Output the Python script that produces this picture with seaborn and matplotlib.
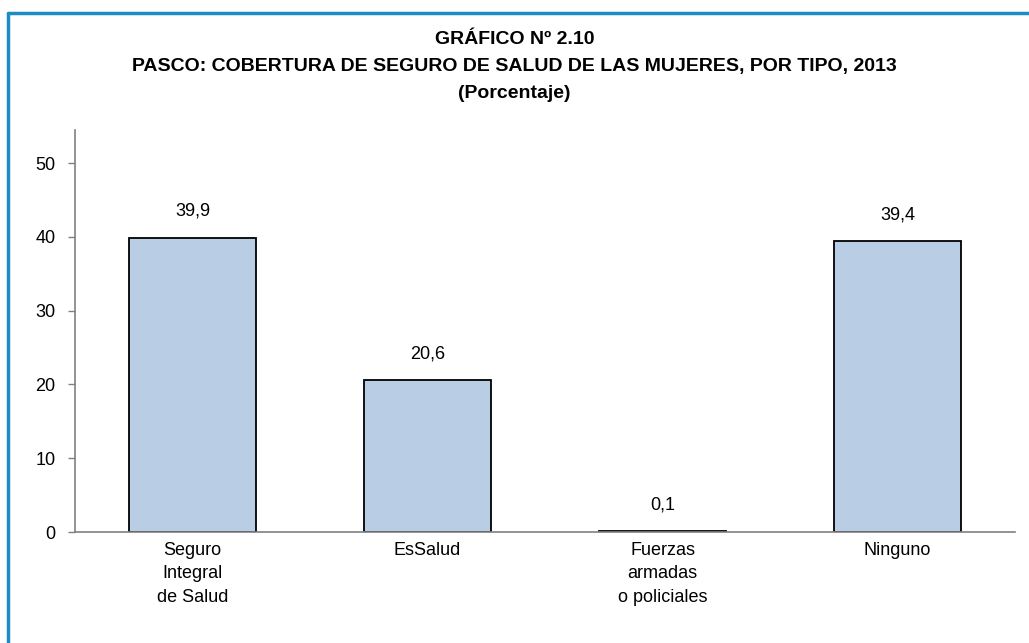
import matplotlib
matplotlib.use("Agg")
import matplotlib.pyplot as plt
import seaborn as sns
from matplotlib.lines import Line2D

categories = ["Seguro\nIntegral\nde Salud", "EsSalud", "Fuerzas\narmadas\no policiales", "Ninguno"]
values = [39.9, 20.6, 0.1, 39.4]
value_labels = ["39,9", "20,6", "0,1", "39,4"]
yticks = [0, 10, 20, 30, 40, 50]

sns.set_style("white")
plt.rcParams['font.family'] = ['Liberation Sans Narrow', 'Liberation Sans', 'DejaVu Sans']
plt.rcParams['text.color'] = 'black'
plt.rcParams['xtick.labelcolor'] = 'black'
plt.rcParams['ytick.labelcolor'] = 'black'

fig = plt.figure(figsize=(10.29, 6.43), dpi=100)
ax = fig.add_axes([0.0729, 0.1726, 0.9135, 0.6254])

sns.barplot(x=categories, y=values, color="#B9CDE5", saturation=1,
            edgecolor="black", linewidth=1.3, width=0.54, ax=ax)

# value labels above bars
for i, (v, lab) in enumerate(zip(values, value_labels)):
    ax.annotate(lab, (i, v), xytext=(0, 19), textcoords="offset points",
                ha="center", va="center", fontsize=13)

ax.set_ylim(0, 54.5)
ax.set_xlim(-0.5, 3.5)
ax.set_yticks(yticks)
ax.set_yticklabels([str(t) for t in yticks], fontsize=13)
ax.set_xticks(range(len(categories)))
ax.set_xticklabels(categories, fontsize=13, linespacing=1.5)
ax.set_xticks([-0.5, 0.5, 1.5, 2.5, 3.5], minor=True)
ax.tick_params(axis="x", which="major", length=0, pad=7)
ax.tick_params(axis="x", which="minor", length=5, direction="out", color="#808080", width=1)
ax.tick_params(axis="y", length=5, direction="out", color="#808080", width=1, pad=9, left=True)
ax.set_xlabel("")
ax.set_ylabel("")

sns.despine(ax=ax, top=True, right=True)
for s in ["left", "bottom"]:
    ax.spines[s].set_color("#808080")
    ax.spines[s].set_linewidth(1.2)

fig.text(0.5, 1 - 40 / 643, "GRÁFICO Nº 2.10", ha="center", va="center", fontsize=14, fontweight="bold")
fig.text(0.5, 1 - 67 / 643, "PASCO: COBERTURA DE SEGURO DE SALUD DE LAS MUJERES, POR TIPO, 2013",
         ha="center", va="center", fontsize=14, fontweight="bold")
fig.text(0.5, 1 - 94 / 643, "(Porcentaje)", ha="center", va="center", fontsize=14, fontweight="bold")

# frame border (left and top visible)
fig.add_artist(Line2D([7.5 / 1029, 7.5 / 1029], [0, 1 - 13 / 643], transform=fig.transFigure,
                      color="#1E8BC3", linewidth=2.5))
fig.add_artist(Line2D([7.5 / 1029, 1], [1 - 13 / 643, 1 - 13 / 643], transform=fig.transFigure,
                      color="#1E8BC3", linewidth=2.5))

fig.savefig("out.png", dpi=100)
